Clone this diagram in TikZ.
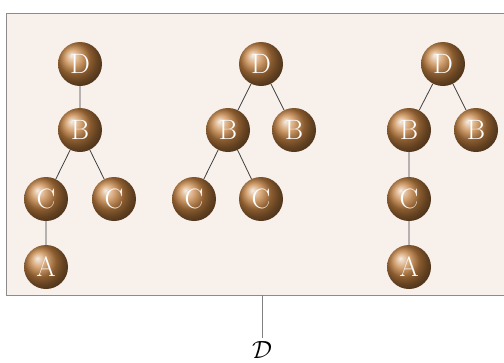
\documentclass[tikz,border=0pt]{standalone}
\usepackage{fontspec}
\usetikzlibrary{shadings}
\definecolor{boxfill}{HTML}{F7F0EB}
\definecolor{ballbrown}{HTML}{C48242}
\newcommand{\ballfont}{\fontsize{28pt}{28pt}\selectfont}
\begin{document}
\begin{tikzpicture}[x=1pt,y=-1pt,
  ballnode/.style={circle,minimum size=44pt,inner sep=0pt,shading=ball,ball color=ballbrown,
    text=white,font=\ballfont},
  edge/.style={draw=black!75,line width=0.8pt}]
\useasboundingbox (0,0) rectangle (504,362);
\node[draw=black!45,line width=0.8pt,fill=boxfill,minimum width=520pt,minimum height=282pt,anchor=north west,inner sep=0pt] (box) at (6,13) {};
% tree 1
\node[ballnode] (a1) at (80,64) {D};
\node[ballnode] (a2) at (80,130) {B};
\node[ballnode] (a3) at (46,199) {C};
\node[ballnode] (a4) at (114,199) {C};
\node[ballnode] (a5) at (46,267) {A};
\draw[edge] (a1)--(a2) (a2)--(a3) (a2)--(a4) (a3)--(a5);
% tree 2
\node[ballnode] (b1) at (261,64) {D};
\node[ballnode] (b2) at (228,130) {B};
\node[ballnode] (b3) at (294,130) {B};
\node[ballnode] (b4) at (194,199) {C};
\node[ballnode] (b5) at (261,199) {C};
\draw[edge] (b1)--(b2) (b1)--(b3) (b2)--(b4) (b2)--(b5);
% tree 3
\node[ballnode] (c1) at (443,64) {D};
\node[ballnode] (c2) at (409,130) {B};
\node[ballnode] (c3) at (476,130) {B};
\node[ballnode] (c4) at (409,199) {C};
\node[ballnode] (c5) at (409,267) {A};
\draw[edge] (c1)--(c2) (c1)--(c3) (c2)--(c4) (c4)--(c5);
% label
\coordinate (top) at (262,295);
\node[inner sep=1pt,font=\fontsize{26pt}{26pt}\selectfont] (lab) at (262,350) {$\mathcal{D}$};
\draw[draw=black!50,line width=0.6pt] (top) -- (262,338);
\end{tikzpicture}
\end{document}
